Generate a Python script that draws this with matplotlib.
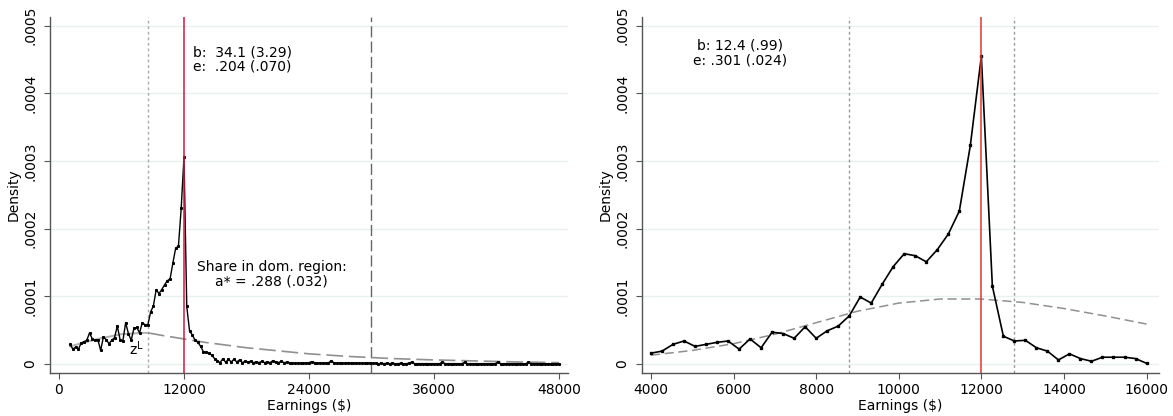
import numpy as np
import matplotlib
matplotlib.use("Agg")
import matplotlib.pyplot as plt

# ---- left panel: full earnings distribution (density, units of 1e-5) ----
left_start, left_stop = 1066.67, 48000
left_density = [
    2.9, 2.2, 2.5, 2.2, 3.1, 3.3, 3.5, 4.6, 3.7, 3.5,
    3.6, 2.0, 4.0, 3.6, 3.0, 3.5, 3.9, 5.6, 3.6, 3.4,
    6.1, 4.5, 3.5, 5.3, 5.4, 4.6, 6.1, 5.8, 5.8, 7.7,
    8.6, 11.0, 10.4, 11.0, 11.7, 12.3, 12.6, 14.9, 17.1, 17.4,
    23.0, 30.6, 8.5, 4.9, 4.3, 3.5, 3.2, 2.6, 1.8, 1.7,
    1.6, 1.3, 0.8, 0.5, 0.2, 0.8, 0.25, 0.7, 0.3, 0.7,
    0.3, 0.6, 0.2, 0.4, 0.3, 0.4, 0.2, 0.3, 0.2, 0.4,
    0.2, 0.3, 0.2, 0.5, 0.3, 0.2, 0.4, 0.2, 0.25, 0.15,
    0.1, 0.1, 0.1, 0.1, 0.15, 0.1, 0.2, 0.35, 0.2, 0.15,
    0.1, 0.15, 0.1, 0.15, 0.5, 0.15, 0.1, 0.15, 0.1, 0.1,
    0.2, 0.1, 0.1, 0.15, 0.1, 0.1, 0.1, 0.1, 0.15, 0.1,
    0.1, 0.05, 0.1, 0.05, 0.1, 0.05, 0.1, 0.05, 0.05, 0.1,
    0.05, 0.05, 0.1, 0.3, 0.05, 0.05, 0.05, 0.05, 0.05, 0.05,
    0.05, 0.05, 0.05, 0.05, 0.3, 0.05, 0.05, 0.05, 0.05, 0.05,
    0.05, 0.05, 0.25, 0.05, 0.05, 0.05, 0.05, 0.05, 0.05, 0.05,
    0.05, 0.05, 0.05, 0.05, 0.3, 0.05, 0.05, 0.05, 0.05, 0.05,
    0.05, 0.05, 0.05, 0.05, 0.05, 0.25, 0.05, 0.05, 0.05, 0.05,
    0.05, 0.05, 0.05, 0.05, 0.05, 0.05, 0.05,
]
# counterfactual: below z^L (light) and above z^L (dashed)
left_cf_lo_x = [1067, 2000, 3000, 4000, 5000, 6000, 7000, 8000, 8533]
left_cf_lo_y = [2.6, 3.0, 3.4, 3.8, 4.1, 4.4, 4.5, 4.6, 4.6]
left_cf_hi_x = [8533, 10000, 12000, 14000, 16000, 18000, 20000, 24000,
                28000, 32000, 36000, 40000, 44000, 48000]
left_cf_hi_y = [4.6, 4.2, 3.7, 3.2, 2.8, 2.4, 2.1, 1.5, 1.1, 0.8, 0.6, 0.45, 0.3, 0.2]
left_kink, left_zl, left_zh = 12000, 8533, 30000
left_xticks = [0, 12000, 24000, 36000, 48000]

# ---- right panel: zoom around the kink ----
right_start, right_stop = 4000, 16000
right_density = [
    1.6, 1.9, 2.9, 3.4, 2.6, 2.9, 3.2, 3.4, 2.2, 3.7,
    2.4, 4.7, 4.5, 3.8, 5.5, 3.8, 4.9, 5.6, 7.1, 9.9,
    9.0, 11.8, 14.4, 16.3, 16.0, 15.1, 16.9, 19.2, 22.6, 32.3,
    45.5, 11.5, 4.1, 3.4, 3.5, 2.4, 1.9, 0.6, 1.5, 0.8,
    0.4, 1.0, 1.0, 1.0, 0.8, 0.1,
]
right_cf_x = [4000, 5000, 6000, 7000, 8000, 9000, 10000, 11000, 12000,
              13000, 14000, 15000, 16000]
right_cf_y = [1.3, 2.0, 3.0, 4.4, 6.1, 7.8, 9.0, 9.6, 9.6, 9.1, 8.2, 7.1, 5.9]
right_kink, right_zl, right_zh = 12000, 8800, 12800
right_xticks = [4000, 6000, 8000, 10000, 12000, 14000, 16000]

yticks = [0, 0.0001, 0.0002, 0.0003, 0.0004, 0.0005]
ytick_labels = ["0", ".0001", ".0002", ".0003", ".0004", ".0005"]
SCALE = 1e-5

plt.rcParams["font.family"] = "DejaVu Sans"
plt.rcParams["font.size"] = 10

fig = plt.figure(figsize=(11.73, 4.16), dpi=100)
ax1 = fig.add_axes([0.0426, 0.1034, 0.4416, 0.856])
ax2 = fig.add_axes([0.5473, 0.1034, 0.4407, 0.856])


def style_axes(ax, xlim, xticks):
    ax.set_xlim(*xlim)
    ax.set_ylim(-1.33e-5, 5.13e-4)
    ax.set_xticks(xticks)
    ax.set_xticklabels([str(t) for t in xticks])
    ax.set_yticks(yticks)
    ax.set_yticklabels(ytick_labels, rotation=90, va="center")
    for t in yticks:
        ax.axhline(t, color="#e9f0f1", lw=1.0, zorder=0)
    for s in ["top", "right"]:
        ax.spines[s].set_visible(False)
    for s in ["left", "bottom"]:
        ax.spines[s].set_color("#555555")
        ax.spines[s].set_linewidth(1.0)
    ax.tick_params(direction="out", length=4, color="#555555", labelsize=10)
    ax.tick_params(axis="y", pad=5)
    ax.set_ylabel("Density", fontsize=10, labelpad=2)
    ax.set_xlabel("Earnings ($)", fontsize=10, labelpad=1)


# left
style_axes(ax1, (-864, 48860), left_xticks)
lx = np.linspace(left_start, left_stop, len(left_density))
ax1.axvline(left_zl, color="#aaaaaa", lw=1, ls=(0, (2, 2)), zorder=1)
ax1.axvline(left_zh, color="#666666", lw=1, ls=(0, (8, 3)), zorder=1)
ax1.plot(left_cf_lo_x, np.array(left_cf_lo_y) * SCALE, color="#b0b0b0", lw=1.4, zorder=2)
ax1.plot(left_cf_hi_x, np.array(left_cf_hi_y) * SCALE, color="#909090", lw=1.2,
         ls=(0, (10, 3.5)), zorder=2)
ax1.plot(lx, np.array(left_density) * SCALE, color="black", lw=1.0,
         marker="s", ms=1.2, zorder=3)
ax1.axvline(left_kink, color="#d4163c", lw=1.1, zorder=4)
ax1.text(12835, 4.6e-4, "b:  34.1 (3.29)", ha="left", va="center", fontsize=10)
ax1.text(12835, 4.4e-4, "e:  .204 (.070)", ha="left", va="center", fontsize=10)
ax1.text(20420, 1.44e-4, "Share in dom. region:", ha="center", va="center", fontsize=10)
ax1.text(20420, 1.22e-4, "a* = .288 (.032)", ha="center", va="center", fontsize=10)
ax1.text(7390, 2.3e-5, r"$\mathregular{z^L}$", ha="center", va="center", fontsize=10)

# right
style_axes(ax2, (3782, 16300), right_xticks)
rx = np.linspace(right_start, right_stop, len(right_density))
ax2.axvline(right_zl, color="#999999", lw=1, ls=(0, (2, 2)), zorder=1)
ax2.axvline(right_zh, color="#999999", lw=1, ls=(0, (2, 2)), zorder=1)
ax2.plot(right_cf_x, np.array(right_cf_y) * SCALE, color="#909090", lw=1.1,
         ls=(0, (6, 3)), zorder=2)
ax2.plot(rx, np.array(right_density) * SCALE, color="black", lw=1.2,
         marker="s", ms=1.5, zorder=3)
ax2.axvline(right_kink, color="#e8312f", lw=1.1, zorder=4)
ax2.text(6155, 4.70e-4, "b: 12.4 (.99)", ha="center", va="center", fontsize=10)
ax2.text(6155, 4.48e-4, "e: .301 (.024)", ha="center", va="center", fontsize=10)

fig.savefig("out.png", dpi=100)
